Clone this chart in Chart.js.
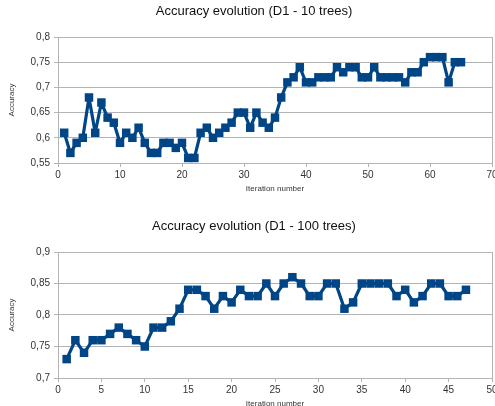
<!DOCTYPE html>
<html>
<head>
<meta charset="utf-8">
<script src="https://cdn.jsdelivr.net/npm/chart.js@4/dist/chart.umd.min.js"></script>
<style>
  html, body { margin: 0; padding: 0; background: #fff; overflow: hidden; width: 495px; height: 406px; }
  .box { position: absolute; left: 0; }
</style>
</head>
<body>
<div class="box" style="top:0"><canvas id="chart10" width="520" height="200"></canvas></div>
<div class="box" style="top:215px"><canvas id="chart100" width="520" height="200"></canvas></div>
<script>
// D1 - 10 trees, iterations 1..65
const iter10 = Array.from({ length: 65 }, (_, i) => i + 1)
const acc10 = [
  0.61, 0.57, 0.59, 0.60, 0.68, 0.61, 0.67, 0.64, 0.63, 0.59,
  0.61, 0.60, 0.62, 0.59, 0.57, 0.57, 0.59, 0.59, 0.58, 0.59,
  0.56, 0.56, 0.61, 0.62, 0.60, 0.61, 0.62, 0.63, 0.65, 0.65,
  0.62, 0.65, 0.63, 0.62, 0.64, 0.68, 0.71, 0.72, 0.74, 0.71,
  0.71, 0.72, 0.72, 0.72, 0.74, 0.73, 0.74, 0.74, 0.72, 0.72,
  0.74, 0.72, 0.72, 0.72, 0.72, 0.71, 0.73, 0.73, 0.75, 0.76,
  0.76, 0.76, 0.71, 0.75, 0.75
]

// D1 - 100 trees, iterations 1..47
const iter100 = Array.from({ length: 47 }, (_, i) => i + 1)
const acc100 = [
  0.73, 0.76, 0.74, 0.76, 0.76, 0.77, 0.78, 0.77, 0.76, 0.75,
  0.78, 0.78, 0.79, 0.81, 0.84, 0.84, 0.83, 0.81, 0.83, 0.82,
  0.84, 0.83, 0.83, 0.85, 0.83, 0.85, 0.86, 0.85, 0.83, 0.83,
  0.85, 0.85, 0.81, 0.82, 0.85, 0.85, 0.85, 0.85, 0.83, 0.84,
  0.82, 0.83, 0.85, 0.85, 0.83, 0.83, 0.84
]

const lineColor = '#004586'
const gridColor = '#b3b3b3'
const textColor = '#333333'
const fontFamily = '"Liberation Sans", Arial, sans-serif'

// 0.75 -> "0,75"
function commaTick(value) {
  return String(Math.round(value * 100) / 100).replace('.', ',')
}

function makeChart(id, title, xs, ys, xMax, xStep, yMin, yMax) {
  const ctx = document.getElementById(id).getContext('2d')
  return new Chart(ctx, {
    type: 'line',
    data: {
      datasets: [{
        data: xs.map((x, i) => ({ x: x, y: ys[i] })),
        borderColor: lineColor,
        backgroundColor: lineColor,
        borderWidth: 3.2,
        borderJoinStyle: 'round',
        pointStyle: 'rect',
        pointRadius: 6,
        pointBorderWidth: 0,
        tension: 0
      }]
    },
    options: {
      responsive: false,
      animation: false,
      layout: { padding: { left: 0, right: 12, top: 0, bottom: 0 } },
      plugins: {
        legend: { display: false },
        tooltip: { enabled: false },
        title: {
          display: true,
          text: title,
          color: '#111',
          font: { family: fontFamily, size: 13, weight: 'normal' },
          padding: { top: 4, bottom: 17.4 }
        }
      },
      scales: {
        x: {
          type: 'linear',
          min: 0,
          max: xMax,
          afterFit: (scale) => { scale.height = 37 },
          grid: {
            // only the right frame line, no vertical grid
            color: (c) => (c.tick && c.tick.value === xMax ? gridColor : 'rgba(0,0,0,0)'),
            tickColor: gridColor,
            tickLength: 4
          },
          border: { color: gridColor },
          ticks: {
            stepSize: xStep,
            color: textColor,
            padding: 2,
            maxRotation: 0,
            font: { family: fontFamily, size: 10 }
          },
          title: {
            display: true,
            text: 'Iteration number',
            color: textColor,
            font: { family: fontFamily, size: 8 },
            padding: { top: 0, bottom: 6 }
          }
        },
        y: {
          min: yMin,
          max: yMax,
          afterFit: (scale) => { scale.width = 58 },
          grid: { color: gridColor, tickColor: gridColor, tickLength: 4 },
          border: { color: gridColor },
          ticks: {
            stepSize: 0.05,
            color: textColor,
            padding: 4,
            font: { family: fontFamily, size: 10 },
            callback: commaTick
          },
          title: {
            display: true,
            text: 'Accuracy',
            color: textColor,
            font: { family: fontFamily, size: 8 },
            padding: { top: 7, bottom: 0 }
          }
        },
        // empty spacer on the right so the title centres like the original
        spacer: {
          type: 'linear',
          position: 'right',
          min: 0,
          max: 1,
          afterFit: (scale) => { scale.width = 16 },
          grid: { display: false, drawTicks: false },
          border: { display: false },
          ticks: { display: false }
        }
      }
    }
  })
}

makeChart('chart10', 'Accuracy evolution (D1 - 10 trees)', iter10, acc10, 70, 10, 0.55, 0.8)
makeChart('chart100', 'Accuracy evolution (D1 - 100 trees)', iter100, acc100, 50, 5, 0.7, 0.9)
</script>
</body>
</html>
